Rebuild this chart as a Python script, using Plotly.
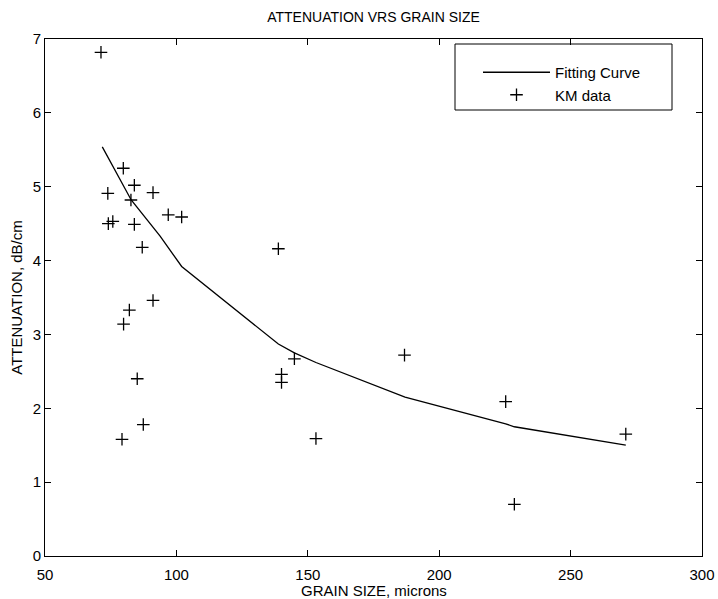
import plotly.graph_objects as go

# KM measured data (grain size in microns, attenuation in dB/cm)
km_grain = [71.3, 79.8, 84.0, 73.9, 91.1, 82.7, 96.9, 102.0, 74.1, 75.8, 84.0, 87.0,
            91.1, 82.1, 79.9, 85.1, 87.4, 79.3, 138.8, 144.9, 140.0, 140.0, 153.1,
            186.8, 225.3, 228.6, 271.0]
km_atten = [6.82, 5.25, 5.02, 4.91, 4.92, 4.82, 4.62, 4.59, 4.50, 4.53, 4.49, 4.18,
            3.46, 3.33, 3.14, 2.40, 1.78, 1.58, 4.16, 2.67, 2.46, 2.35, 1.59,
            2.72, 2.09, 0.70, 1.65]

# Fitting curve vertices
fit_grain = [71.8, 82.8, 93.8, 102.0, 138.8, 144.9, 153.1, 187.0, 225.3, 228.6, 271.0]
fit_atten = [5.54, 4.82, 4.33, 3.92, 2.87, 2.75, 2.62, 2.15, 1.79, 1.75, 1.50]

x_ticks = [50, 100, 150, 200, 250, 300]
y_ticks = [0, 1, 2, 3, 4, 5, 6, 7]

FONT = "Liberation Sans, Arial, Helvetica, sans-serif"

# plot-area pixel geometry (for placing the legend box and titles)
L, R, T, B = 45, 702, 39, 556
W, H = R - L, B - T


def px_x(p):
    return (p - L) / W


def px_y(p):
    return (B - p) / H


fig = go.Figure()
fig.add_trace(go.Scatter(
    x=fit_grain, y=fit_atten, mode="lines", name="Fitting Curve",
    line=dict(color="black", width=1.3),
))
fig.add_trace(go.Scatter(
    x=km_grain, y=km_atten, mode="markers", name="KM data",
    marker=dict(symbol="cross-thin", size=9, color="black",
                line=dict(color="black", width=1.3)),
))

axis_common = dict(
    showgrid=False, zeroline=False, showline=True, linecolor="black", linewidth=1,
    mirror="ticks", ticks="inside", ticklen=6, tickcolor="black", tickwidth=1,
    tickfont=dict(family=FONT, size=15, color="black"), automargin=False,
)

fig.update_layout(
    width=718, height=599,
    margin=dict(l=L, r=718 - R, t=T, b=599 - B),
    paper_bgcolor="white", plot_bgcolor="white",
    title=dict(text="ATTENUATION VRS GRAIN SIZE", x=(L + R) / 2 / 718, xanchor="center",
               y=1 - 17 / 599, yanchor="middle",
               font=dict(family=FONT, size=14, color="black")),
    xaxis=dict(range=[50, 300], tickvals=x_ticks, ticktext=[str(v) for v in x_ticks],
               ticklabelstandoff=5,
               **axis_common),
    yaxis=dict(range=[0, 7], tickvals=y_ticks, ticktext=[str(v) for v in y_ticks],
               title=dict(text="ATTENUATION, dB/cm", standoff=6,
                          font=dict(family=FONT, size=15, color="black")),
               **axis_common),
    legend=dict(x=px_x(478), y=px_y(56), xanchor="left", yanchor="top",
                borderwidth=0, bgcolor="rgba(0,0,0,0)",
                font=dict(family=FONT, size=15, color="black"),
                itemwidth=67, tracegroupgap=0),
    shapes=[dict(type="rect", xref="paper", yref="paper",
                 x0=px_x(455), x1=px_x(672), y0=px_y(110), y1=px_y(44),
                 line=dict(color="black", width=1), fillcolor="white", layer="below")],
    annotations=[dict(text="GRAIN SIZE, microns", xref="paper", yref="paper",
                      x=0.5, y=px_y(590), xanchor="center", yanchor="middle",
                      showarrow=False, font=dict(family=FONT, size=15, color="black"))],
    showlegend=True,
)

fig.write_html("out.html")
